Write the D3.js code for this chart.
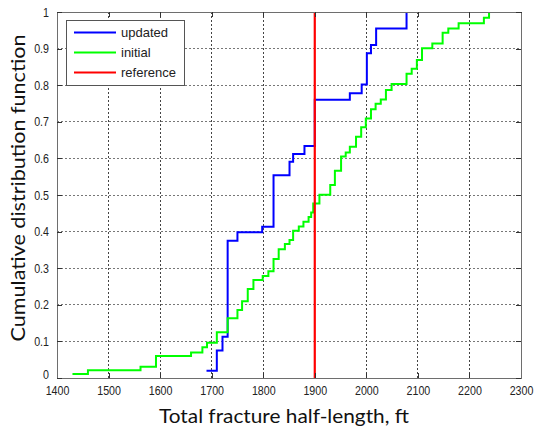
<!DOCTYPE html>
<html>
<head>
<meta charset="utf-8">
<script src="https://cdn.jsdelivr.net/npm/d3@7/dist/d3.min.js"></script>
<style>
  body { margin: 0; background: #fff; }
  svg { display: block; }
</style>
</head>
<body>
<svg id="chart" width="536" height="430"></svg>
<script>
// Axis ticks
const xTicks = [1400, 1500, 1600, 1700, 1800, 1900, 2000, 2100, 2200, 2300];
const yTicks = [0, 0.1, 0.2, 0.3, 0.4, 0.5, 0.6, 0.7, 0.8, 0.9, 1];
const yTickLabels = ["0", "0.1", "0.2", "0.3", "0.4", "0.5", "0.6", "0.7", "0.8", "0.9", "1"];

// Updated distribution: half-length (ft) at each step and CDF after the step
const updatedX   = [1690, 1710, 1721, 1731, 1750, 1798, 1820, 1851, 1858, 1880, 1900, 1968, 1991, 2001, 2009, 2019, 2078];
const updatedCdf = [0.02, 0.075, 0.113, 0.375, 0.398, 0.413, 0.554, 0.591, 0.612, 0.634, 0.76, 0.778, 0.802, 0.887, 0.91, 0.955, 1.0];

// Initial distribution
const initialX   = [1430, 1460, 1562, 1592, 1660, 1682, 1691, 1710, 1731, 1750, 1759, 1770, 1781, 1799, 1810, 1820, 1830, 1842,
                    1851, 1858, 1869, 1878, 1888, 1893, 1897, 1909, 1930, 1939, 1951, 1960, 1968, 1980, 1990, 1999, 2009, 2018,
                    2028, 2038, 2049, 2078, 2088, 2098, 2108, 2128, 2148, 2159, 2179, 2228, 2238];
const initialCdf = [0.011, 0.021, 0.031, 0.060, 0.070, 0.084, 0.096, 0.125, 0.163, 0.186, 0.210, 0.243, 0.268, 0.279, 0.292, 0.325, 0.352, 0.366,
                    0.377, 0.402, 0.414, 0.427, 0.44, 0.452, 0.477, 0.501, 0.527, 0.566, 0.605, 0.616, 0.632, 0.659, 0.685, 0.709, 0.734, 0.749,
                    0.761, 0.787, 0.803, 0.831, 0.845, 0.869, 0.901, 0.914, 0.943, 0.955, 0.969, 0.984, 1.0];

// Reference half-length (ft)
const referenceX = 1900;

const seriesNames = ["updated", "initial", "reference"];
const seriesColors = ["#0000ff", "#00ff00", "#ff0000"];

const xLabel = "Total fracture half-length, ft";
const yLabel = "Cumulative distribution function";

// ---- layout ----
const plot = { left: 57, right: 521, top: 12, bottom: 378 };
const tickFont = "'Liberation Sans', Arial, sans-serif";
const titleFont = "Lato, 'Open Sans', sans-serif";

const svg = d3.select("#chart");

const x = d3.scaleLinear().domain([1400, 2300]).range([plot.left, plot.right]);
const y = d3.scaleLinear().domain([0, 1]).range([plot.bottom, plot.top]);

// narrow the tick labels a little
function squeeze(sel, f) {
  sel.each(function () {
    const w = this.getComputedTextLength();
    d3.select(this).attr("textLength", w * f).attr("lengthAdjust", "spacingAndGlyphs");
  });
}

// ---- grid ----
const grid = svg.append("g").attr("shape-rendering", "crispEdges")
  .attr("stroke", "#444").attr("stroke-width", 1).attr("stroke-dasharray", "2,2");
grid.selectAll("line.v").data(xTicks.slice(1, -1)).join("line")
  .attr("class", "v")
  .attr("x1", d => x(d)).attr("x2", d => x(d))
  .attr("y1", plot.top).attr("y2", plot.bottom);
grid.selectAll("line.h").data(yTicks.slice(1, -1)).join("line")
  .attr("class", "h")
  .attr("x1", plot.left).attr("x2", plot.right)
  .attr("y1", d => y(d)).attr("y2", d => y(d))
  .attr("stroke", "#777");

// ---- series ----
const stepLine = d3.line()
  .x(d => x(d[0]))
  .y(d => y(d[1]))
  .curve(d3.curveStepAfter);

const updatedPts = updatedX.map((v, i) => [v, updatedCdf[i]]);
const initialPts = initialX.map((v, i) => [v, initialCdf[i]]);

svg.append("path").datum(updatedPts)
  .attr("d", stepLine).attr("fill", "none")
  .attr("stroke", seriesColors[0]).attr("stroke-width", 2);

svg.append("path").datum(initialPts)
  .attr("d", stepLine).attr("fill", "none")
  .attr("stroke", seriesColors[1]).attr("stroke-width", 2);

svg.append("line")
  .attr("x1", x(referenceX)).attr("x2", x(referenceX))
  .attr("y1", y(0)).attr("y2", y(1))
  .attr("stroke", seriesColors[2]).attr("stroke-width", 2.2);

// ---- axes box with inward ticks ----
const tickLen = 5;
const axisG = svg.append("g").attr("shape-rendering", "crispEdges");

const bottomAxis = d3.axisBottom(x).tickValues(xTicks).tickSizeInner(-tickLen).tickSizeOuter(0).tickPadding(8).tickFormat(d3.format("d"));
const topAxis = d3.axisTop(x).tickValues(xTicks).tickSizeInner(-tickLen).tickSizeOuter(0).tickFormat("");
const leftAxis = d3.axisLeft(y).tickValues(yTicks).tickSizeInner(-tickLen).tickSizeOuter(0).tickPadding(8)
  .tickFormat((d, i) => yTickLabels[i]);
const rightAxis = d3.axisRight(y).tickValues(yTicks).tickSizeInner(-tickLen).tickSizeOuter(0).tickFormat("");

const gb = axisG.append("g").attr("transform", `translate(0,${plot.bottom})`).call(bottomAxis);
const gt = axisG.append("g").attr("transform", `translate(0,${plot.top})`).call(topAxis);
const gl = axisG.append("g").attr("transform", `translate(${plot.left},0)`).call(leftAxis);
const gr = axisG.append("g").attr("transform", `translate(${plot.right},0)`).call(rightAxis);

[gb, gt, gl, gr].forEach(g => {
  g.select(".domain").attr("stroke", "#6e6e6e");
  g.selectAll(".tick line").attr("stroke", "#333");
  g.selectAll(".tick text")
    .attr("font-family", tickFont).attr("font-size", 13).attr("fill", "#222");
});
gb.selectAll(".tick text").attr("dy", "0.71em").call(squeeze, 0.82);
gl.selectAll(".tick text").call(squeeze, 0.82);
gl.selectAll(".tick text").filter(d => d === 0).attr("dy", "0.0em");

// ---- axis titles ----
svg.append("text")
  .attr("x", 284).attr("y", 423)
  .attr("text-anchor", "middle")
  .attr("font-family", titleFont).attr("font-size", 20).attr("fill", "#111")
  .attr("textLength", 250).attr("lengthAdjust", "spacingAndGlyphs")
  .text(xLabel);

svg.append("text")
  .attr("transform", "translate(25,188) rotate(-90)")
  .attr("text-anchor", "middle")
  .attr("font-family", titleFont).attr("font-size", 20).attr("fill", "#111")
  .attr("textLength", 307).attr("lengthAdjust", "spacingAndGlyphs")
  .text(yLabel);

// ---- legend ----
const legend = svg.append("g");
legend.append("rect")
  .attr("x", 66.5).attr("y", 20.5).attr("width", 118).attr("height", 65)
  .attr("fill", "#fff").attr("stroke", "#555").attr("stroke-width", 1);
const rowY = [32.5, 52.5, 72.5];
seriesNames.forEach((name, i) => {
  legend.append("line")
    .attr("x1", 74).attr("x2", 116).attr("y1", rowY[i]).attr("y2", rowY[i])
    .attr("stroke", seriesColors[i]).attr("stroke-width", 2);
  legend.append("text")
    .attr("x", 121).attr("y", rowY[i]).attr("dy", "0.35em")
    .attr("font-family", tickFont).attr("font-size", 13).attr("fill", "#222")
    .text(name);
});
</script>
</body>
</html>
